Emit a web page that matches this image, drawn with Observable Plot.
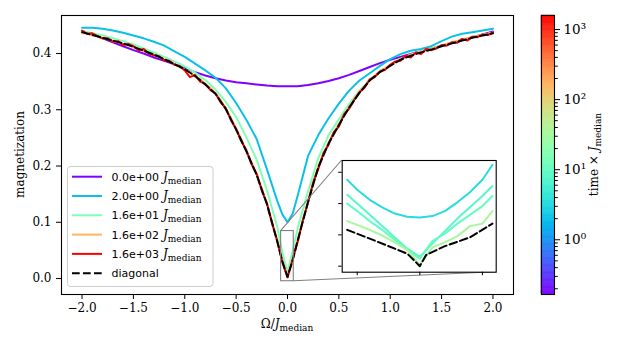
<!DOCTYPE html>
<html><head><meta charset="utf-8">
<script src="https://cdn.jsdelivr.net/npm/d3@7"></script>
<script src="https://cdn.jsdelivr.net/npm/@observablehq/plot@0.6"></script>
<style>
body{margin:0;background:#fff;}
#wrap{position:relative;width:640px;height:350px;overflow:hidden;background:#fff;}
#wrap > svg{position:absolute;left:0;top:0;}
</style></head><body><div id="wrap"></div>
<script>
// ---------------- data ----------------
const omegaA = [-2.0,-1.9,-1.8,-1.7,-1.6,-1.5,-1.4,-1.3,-1.2,-1.1,-1.0,-0.9,-0.8,-0.7,-0.6,-0.5,-0.4,-0.3,-0.2,-0.1,-0.05,0,0.05,0.1,0.2,0.3,0.4,0.5,0.6,0.7,0.8,0.9,1.0,1.1,1.2,1.3,1.4,1.5,1.6,1.7,1.8,1.9,2.0];
const magT0 = [0.440,0.434,0.427,0.420,0.413,0.406,0.400,0.393,0.387,0.381,0.374,0.367,0.361,0.356,0.352,0.349,0.347,0.345,0.343,0.342,0.342,0.342,0.342,0.342,0.344,0.347,0.351,0.356,0.362,0.369,0.376,0.383,0.389,0.394,0.399,0.404,0.409,0.414,0.419,0.424,0.429,0.434,0.439];
const magT2 = [0.446,0.446,0.444,0.441,0.437,0.432,0.427,0.421,0.414,0.404,0.394,0.382,0.370,0.357,0.338,0.312,0.282,0.248,0.194,0.138,0.114,0.100,0.115,0.148,0.218,0.255,0.285,0.311,0.334,0.352,0.365,0.378,0.390,0.399,0.405,0.408,0.413,0.422,0.430,0.435,0.438,0.441,0.444];
const magT16 = [0.440,0.436,0.432,0.427,0.422,0.416,0.409,0.402,0.394,0.386,0.377,0.366,0.353,0.336,0.314,0.287,0.251,0.211,0.157,0.092,0.046,0.012,0.049,0.090,0.155,0.214,0.255,0.283,0.310,0.334,0.353,0.368,0.379,0.390,0.398,0.404,0.409,0.414,0.419,0.424,0.429,0.433,0.437];
const magDiag = [0.438,0.433,0.428,0.423,0.418,0.412,0.405,0.398,0.390,0.381,0.372,0.360,0.345,0.328,0.301,0.265,0.226,0.184,0.132,0.066,0.030,0.003,0.032,0.068,0.136,0.198,0.240,0.273,0.304,0.330,0.352,0.367,0.378,0.389,0.396,0.402,0.407,0.413,0.418,0.423,0.428,0.432,0.436];

const omegaB = [-2.00,-1.95,-1.90,-1.85,-1.80,-1.75,-1.70,-1.65,-1.60,-1.55,-1.50,-1.45,-1.40,-1.35,-1.30,-1.25,-1.20,-1.15,-1.10,-1.05,-1.00,-0.95,-0.90,-0.85,-0.80,-0.75,-0.70,-0.65,-0.60,-0.55,-0.50,-0.45,-0.40,-0.35,-0.30,-0.25,-0.20,-0.15,-0.10,-0.05,0.00,0.05,0.10,0.15,0.20,0.25,0.30,0.35,0.40,0.45,0.50,0.55,0.60,0.65,0.70,0.75,0.80,0.85,0.90,0.95,1.00,1.05,1.10,1.15,1.20,1.25,1.30,1.35,1.40,1.45,1.50,1.55,1.60,1.65,1.70,1.75,1.80,1.85,1.90,1.95,2.00];
const magT160 = [0.436,0.436,0.432,0.431,0.427,0.426,0.422,0.421,0.417,0.416,0.411,0.409,0.404,0.402,0.397,0.395,0.389,0.387,0.380,0.378,0.371,0.367,0.359,0.355,0.345,0.339,0.329,0.317,0.302,0.285,0.266,0.248,0.227,0.207,0.185,0.160,0.133,0.101,0.068,0.033,0.004,0.035,0.070,0.104,0.138,0.170,0.200,0.222,0.242,0.259,0.275,0.290,0.306,0.318,0.332,0.342,0.354,0.361,0.369,0.374,0.380,0.385,0.391,0.394,0.398,0.400,0.404,0.406,0.409,0.411,0.415,0.417,0.420,0.422,0.425,0.427,0.430,0.431,0.434,0.435,0.437];
const magT1600 = [0.441,0.435,0.436,0.431,0.427,0.427,0.421,0.422,0.415,0.417,0.413,0.406,0.408,0.400,0.397,0.395,0.388,0.387,0.380,0.378,0.370,0.358,0.362,0.350,0.346,0.335,0.329,0.313,0.303,0.281,0.266,0.244,0.228,0.203,0.186,0.156,0.134,0.098,0.067,0.029,0.002,0.034,0.066,0.104,0.135,0.171,0.195,0.223,0.238,0.260,0.270,0.292,0.302,0.318,0.331,0.339,0.354,0.358,0.368,0.371,0.380,0.386,0.387,0.396,0.393,0.402,0.399,0.408,0.406,0.409,0.415,0.414,0.420,0.419,0.426,0.423,0.430,0.429,0.434,0.433,0.437];

const mainTimes = [0, 2, 16, 160, 1600];
const legendLabels = ["0.0e+00", "2.0e+00", "1.6e+01", "1.6e+02", "1.6e+03", "diagonal"];

// inset (zoom around omega = 0)
const omegaC = [-0.058,-0.05,-0.04,-0.03,-0.02,-0.01,0,0.01,0.02,0.03,0.04,0.05,0.058];
const insetTimes = [3.4, 7.8, 10, 34];
const insetCyan  = [0.069,0.061,0.053,0.047,0.042,0.0395,0.0388,0.040,0.044,0.051,0.059,0.069,0.081];
const insetTeal  = [0.057,0.050,0.041,0.032,0.023,0.014,0.0075,0.018,0.028,0.038,0.047,0.056,0.064];
const insetGreen = [0.050,0.044,0.036,0.029,0.021,0.013,0.006,0.020,0.026,0.034,0.041,0.048,0.056];
const insetLight = [0.036,0.033,0.029,0.0245,0.019,0.013,0.001,0.015,0.019,0.024,0.032,0.034,0.044];
const omegaD = [-0.058,-0.04,-0.02,-0.01,0,0.005,0.02,0.04,0.058];
const insetDiag = [0.029,0.022,0.014,0.010,0.000,0.009,0.016,0.023,0.034];
const insetXDomain = [-0.062, 0.061];
const insetYDomain = [-0.0048, 0.0844];

const xTicks = [-2.0,-1.5,-1.0,-0.5,0.0,0.5,1.0,1.5,2.0];
const yTicks = [0.0,0.1,0.2,0.3,0.4];
const cbDomain = [0.1655, 1585];
const cbMajor = [1, 10, 100, 1000];

// ---------------- helpers ----------------
function mplRainbow(t) {
  t = Math.max(0, Math.min(1, t));
  const r = Math.min(1, Math.abs(2 * t - 0.5));
  const g = Math.sin(Math.PI * t);
  const b = Math.cos(Math.PI * t / 2);
  return `rgb(${Math.round(r*255)},${Math.round(g*255)},${Math.round(b*255)})`;
}
const lo = Math.log10(cbDomain[0]), hi = Math.log10(cbDomain[1]);
const colorOf = t => t <= 0 ? mplRainbow(0) : mplRainbow((Math.log10(t) - lo) / (hi - lo));
const rows = (xs, ys) => xs.map((w, i) => ({w, m: ys[i]}));
const fmt1 = d => d.toFixed(1).replace("-", "\u2212");
const SERIF = "'DejaVu Serif', serif";
const DASH = "7.7,3.3";

const wrap = document.getElementById("wrap");

// ---------------- main chart ----------------
const mainSeries = [magT0, magT2, magT16];
const main = Plot.plot({
  width: 640, height: 350,
  marginLeft: 61, marginRight: 127, marginTop: 15, marginBottom: 56,
  style: {fontFamily: SERIF, fontSize: "12px", color: "black", background: "transparent"},
  x: {domain: [-2.2, 2.2]},
  y: {domain: [-0.0284, 0.4676]},
  marks: [
    Plot.axisX({ticks: xTicks, tickSize: 5, tickPadding: 4, tickFormat: fmt1, label: null, fontSize: 12}),
    Plot.axisY({ticks: yTicks, tickSize: 5, tickPadding: 5, tickFormat: fmt1, label: null, fontSize: 12}),
    ...mainSeries.map((s, i) => Plot.line(rows(omegaA, s), {x: "w", y: "m", stroke: colorOf(mainTimes[i]), strokeWidth: 2})),
    Plot.line(rows(omegaB, magT160), {x: "w", y: "m", stroke: colorOf(mainTimes[3]), strokeWidth: 2}),
    Plot.line(rows(omegaB, magT1600), {x: "w", y: "m", stroke: colorOf(mainTimes[4]), strokeWidth: 2}),
    Plot.line(rows(omegaA, magDiag), {x: "w", y: "m", stroke: "black", strokeWidth: 2, strokeDasharray: DASH}),
    Plot.rect([{}], {x1: insetXDomain[0], x2: insetXDomain[1], y1: insetYDomain[0], y2: insetYDomain[1], fill: "none", stroke: "#808080", strokeWidth: 1.1}),
    Plot.frame({stroke: "black", strokeWidth: 1.1})
  ]
});
wrap.appendChild(main);

// ---------------- colorbar ----------------
const nb = 240;
const bands = d3.range(nb).map(i => {
  const a = lo + (hi - lo) * i / nb, b = lo + (hi - lo) * (i + 1) / nb;
  return {y1: 10 ** a, y2: 10 ** b, v: 10 ** ((a + b) / 2)};
});
const cbMinor = [0.1, 1, 10, 100].flatMap(b => [2,3,4,5,6,7,8,9].map(k => k * b)).filter(v => v > cbDomain[0] && v < cbDomain[1]);
const sup = ["\u2070", "\u00b9", "\u00b2", "\u00b3"];
const cbar = Plot.plot({
  width: 640, height: 350,
  marginLeft: 541, marginRight: 86, marginTop: 15, marginBottom: 56,
  style: {fontFamily: SERIF, fontSize: "12px", color: "black", background: "transparent"},
  x: {domain: [0, 1], axis: null},
  y: {type: "log", domain: cbDomain, axis: null},
  color: {type: "log", domain: cbDomain, interpolate: mplRainbow},
  marks: [
    Plot.rect(bands, {x1: 0, x2: 1, y1: "y1", y2: "y2", fill: "v", stroke: "v", strokeWidth: 0.6, inset: 0}),
    Plot.axisY({anchor: "right", ticks: cbMinor, tickSize: 2.8, tickFormat: () => "", label: null}),
    Plot.axisY({anchor: "right", ticks: cbMajor, tickSize: 5, tickPadding: 4, tickFormat: d => "10" + sup[Math.round(Math.log10(d))], label: null, fontSize: 13.5}),
    Plot.frame({stroke: "black", strokeWidth: 1.1})
  ]
});
wrap.appendChild(cbar);

// ---------------- overlay: labels, legend, inset connectors ----------------
const ov = d3.select(wrap).append("svg").attr("width", 640).attr("height", 350)
  .style("position", "absolute").style("left", 0).style("top", 0);

const mx = main.scale("x"), my = main.scale("y");
const rx1 = mx.apply(insetXDomain[0]), rx2 = mx.apply(insetXDomain[1]);
const ry1 = my.apply(insetYDomain[1]), ry2 = my.apply(insetYDomain[0]);
const inL = 341.7, inR = 495.7, inT = 160, inB = 271.7;
ov.append("line").attr("x1", rx1).attr("y1", ry1).attr("x2", inL).attr("y2", inT).attr("stroke", "#808080").attr("stroke-width", 1.1);
ov.append("line").attr("x1", rx2).attr("y1", ry2).attr("x2", inR).attr("y2", inB).attr("stroke", "#808080").attr("stroke-width", 1.1);

function mathLabel(sel, pre, fs, subfs) {
  sel.append("tspan").text(pre);
  sel.append("tspan").attr("font-style", "italic").text("J");
  sel.append("tspan").attr("font-size", subfs).attr("dy", 3).text("median");
}
// x label
const xl = ov.append("text").attr("x", 287).attr("y", 328).attr("text-anchor", "middle")
  .attr("font-family", SERIF).attr("font-size", "12px");
mathLabel(xl, "\u03a9/", 12, "9px");
// y label
ov.append("text").attr("transform", "translate(24,154.5) rotate(-90)").attr("text-anchor", "middle")
  .attr("font-family", SERIF).attr("font-size", "12px").text("magnetization");
// colorbar label
const cl = ov.append("text").attr("transform", "translate(598,154.5) rotate(-90)").attr("text-anchor", "middle")
  .attr("font-family", SERIF).attr("font-size", "12px");
mathLabel(cl, "time \u00d7 ", 12, "9px");

// legend
const lg = ov.append("g");
lg.append("rect").attr("x", 67.5).attr("y", 166.5).attr("width", 145.5).attr("height", 120).attr("rx", 3)
  .attr("fill", "white").attr("fill-opacity", 0.8).attr("stroke", "#cccccc").attr("stroke-width", 1);
legendLabels.forEach((lab, i) => {
  const yy = 176.7 + i * 19.3;
  const isDiag = i === legendLabels.length - 1;
  lg.append("line").attr("x1", 72).attr("x2", 102).attr("y1", yy).attr("y2", yy)
    .attr("stroke", isDiag ? "black" : colorOf(mainTimes[i])).attr("stroke-width", 2)
    .attr("stroke-dasharray", isDiag ? DASH : null);
  const t = lg.append("text").attr("x", 111.5).attr("y", yy + 4)
    .attr("font-family", "'DejaVu Sans', sans-serif").attr("font-size", "11px");
  t.append("tspan").text(lab);
  if (!isDiag) {
    t.append("tspan").attr("dx", 4).attr("font-family", SERIF).attr("font-style", "italic").attr("font-size", "12px").text("J");
    t.append("tspan").attr("font-family", SERIF).attr("font-size", "9px").attr("dy", 3).text("median");
  }
});

// ---------------- inset ----------------
const insetSeries = [insetCyan, insetTeal, insetGreen, insetLight];
const inset = Plot.plot({
  width: 640, height: 350,
  marginLeft: inL, marginRight: 640 - inR, marginTop: inT, marginBottom: 350 - inB,
  style: {background: "transparent"},
  x: {domain: insetXDomain},
  y: {domain: insetYDomain},
  marks: [
    Plot.frame({fill: "white", stroke: "none"}),
    Plot.axisX({ticks: [-0.05, 0, 0.05], tickSize: 3.5, tickFormat: () => "", label: null}),
    Plot.axisY({ticks: [0, 0.025, 0.05, 0.075], tickSize: 3.5, tickFormat: () => "", label: null}),
    ...insetSeries.map((s, i) => Plot.line(rows(omegaC, s), {x: "w", y: "m", stroke: colorOf(insetTimes[i]), strokeWidth: 2})),
    Plot.line(rows(omegaD, insetDiag), {x: "w", y: "m", stroke: "black", strokeWidth: 2, strokeDasharray: DASH}),
    Plot.frame({stroke: "black", strokeWidth: 1.1})
  ]
});
wrap.appendChild(inset);
</script>
</body></html>
